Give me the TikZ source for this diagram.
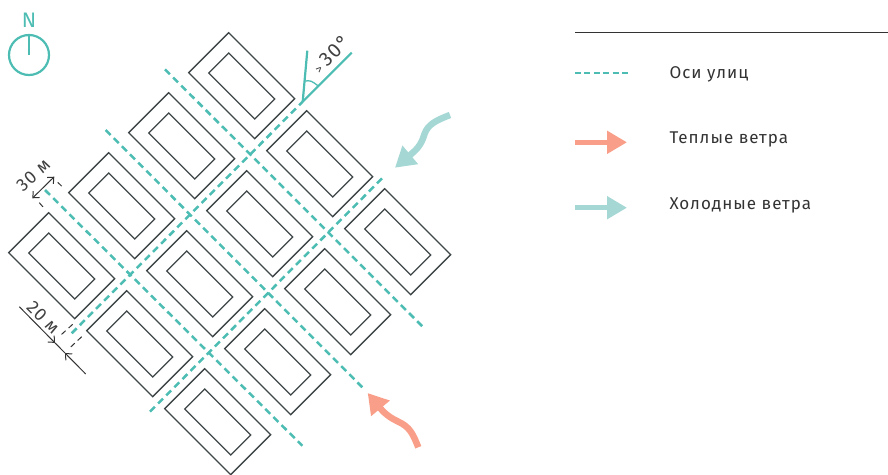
\documentclass[tikz,border=0pt]{standalone}
\usepackage{fontspec}
\usepackage{xcolor}
\setmainfont{Fira Sans}[LetterSpace=6]
\usetikzlibrary{arrows.meta, positioning, calc}

\definecolor{axisteal}{HTML}{4DBDB3}
\definecolor{warmwind}{HTML}{F99F89}
\definecolor{coldwind}{HTML}{A5D8D5}
\definecolor{blockline}{HTML}{3F4648}

\begin{document}
\begin{tikzpicture}[
    x=1pt, y=-1pt,
    >=Stealth,
    blockline/.style={draw=blockline, line width=1.3pt, line join=miter},
    axisline/.style={draw=axisteal, line width=2.5pt, dash pattern=on 7pt off 4.5pt},
    tealline/.style={draw=axisteal, line width=2.2pt},
    dimline/.style={draw=black!80, line width=1pt},
    dimdash/.style={draw=black!80, line width=1pt, dash pattern=on 5.5pt off 4pt},
    dimarr/.style={dimline, -{Straight Barb[length=5pt,width=9pt]}},
    dimtext/.style={font=\fontsize{18}{18}\selectfont, text=black!75, inner sep=0pt},
    legtext/.style={font=\fontsize{17}{17}\selectfont, text=black!80, inner sep=0pt, anchor=west},
    warmarr/.style={draw=warmwind, line width=6.5pt, -{Triangle[length=20pt,width=23pt]}},
    coldarr/.style={draw=coldwind, line width=6.5pt, -{Triangle[length=20pt,width=23pt]}},
]
\useasboundingbox (0,0) rectangle (888,474);

% === Blocks ===
\foreach \i/\j in {0/0,1/0,2/0,3/0,0/1,1/1,2/1,3/1,0/2,1/2,2/2,3/2}{
    \coordinate (blk) at ($(228.7,32.7)+\i*(-60,60)+\j*(78,78)$);
    \draw[blockline] (blk) -- ++(66,66) -- ++(-40,40) -- ++(-66,-66) -- cycle;
    \draw[blockline] ($(blk)+(0,20.3)$) -- ++(46,46) -- ++(-20,20) -- ++(-46,-46) -- cycle;
}

% === Street axes ===
\draw[axisline] (165,69.3) -- (422.3,326.3);
\draw[axisline] (105.7,130) -- (362.3,387.3);
\draw[axisline] (45,190) -- (302.3,445.7);
\draw[axisline] (71.7,333.3) -- (302.7,101.7);
\draw[axisline] (150,411.7) -- (382.7,177.7);

% === Angle mark ===
\coordinate (apex) at (302.7,101.7);
\draw[tealline] (apex) -- (351.7,52.7);
\draw[tealline] (apex) -- (307.3,50.7);
\draw[tealline, line width=1.3pt] (304.6,81) .. controls (311,80.5) .. (318.3,86);
\node[dimtext, rotate=45] (angle) at (331,54) {{\fontsize{12}{12}\selectfont >}\hspace{5pt}{\fontsize{20}{20}\selectfont 30°}};

% === North sign ===
\node[draw=axisteal, line width=2.2pt, circle, minimum size=40pt, inner sep=0pt] (north) at (29,55) {};
\draw[tealline] (north.north) -- (north.center);
\node[font=\fontsize{21}{21}\selectfont\addfontfeature{LetterSpace=0}, text=axisteal, inner sep=0pt, above=6pt of north] (ntext) {N};

% === 30 m dimension ===
\draw[dimline, {Straight Barb[length=5pt,width=9pt]}-{Straight Barb[length=5pt,width=9pt]}] (32.3,198.3) -- (54.3,176.7);
\draw[dimdash] (57.7,182.3) -- (63.3,187.7);
\draw[dimdash] (39.3,202.7) -- (43.3,207.3);
\node[dimtext, rotate=42] (dimthirty) at (33.3,175) {30 м};

% === 20 m dimension ===
\draw[dimarr] (19.3,306.7) -- (55,342.9);
\draw[dimarr] (85.7,374) -- (65,353);
\draw[dimline] (55,342.9) -- (65,353);
\draw[dimdash] (72.7,324.3) -- (59,336.7);
\draw[dimdash] (81.7,336.7) -- (68.3,349.3);
\node[dimtext, rotate=-45] (dimtwenty) at (43.3,317.3) {20 м};

% === Winds ===
\draw[coldarr] (450,115) .. controls (437,120) and (428,124) .. (424.5,134)
    .. controls (421,146) and (416,150) .. (395,167.7);
\draw[warmarr] (418.3,447.3) .. controls (413,434) and (410,427) .. (398,421.5)
    .. controls (386,416) and (381,409) .. (367.7,393);

% === Legend ===
\draw[draw=black!80, line width=1pt] (575,32.3) -- (888,32.3);
\coordinate (legaxis) at (575,73);
\coordinate (legwarm) at (575,142.3);
\coordinate (legcold) at (575,207.7);
\draw[axisline, line width=2pt, dash pattern=on 6pt off 3.4pt] (legaxis) -- ++(55,0);
\draw[warmarr, line width=5.5pt, -{Triangle[length=20pt,width=22pt]}] (legwarm) -- ++(52,0);
\draw[coldarr, line width=5.5pt, -{Triangle[length=20pt,width=22pt]}] (legcold) -- ++(52,0);
\node[legtext] (txtaxis) at (669.3,74) {Оси улиц};
\node[legtext] (txtwarm) at (669.3,139.5) {Теплые ветра};
\node[legtext] (txtcold) at (669.3,205.5) {Холодные ветра};

\end{tikzpicture}
\end{document}
